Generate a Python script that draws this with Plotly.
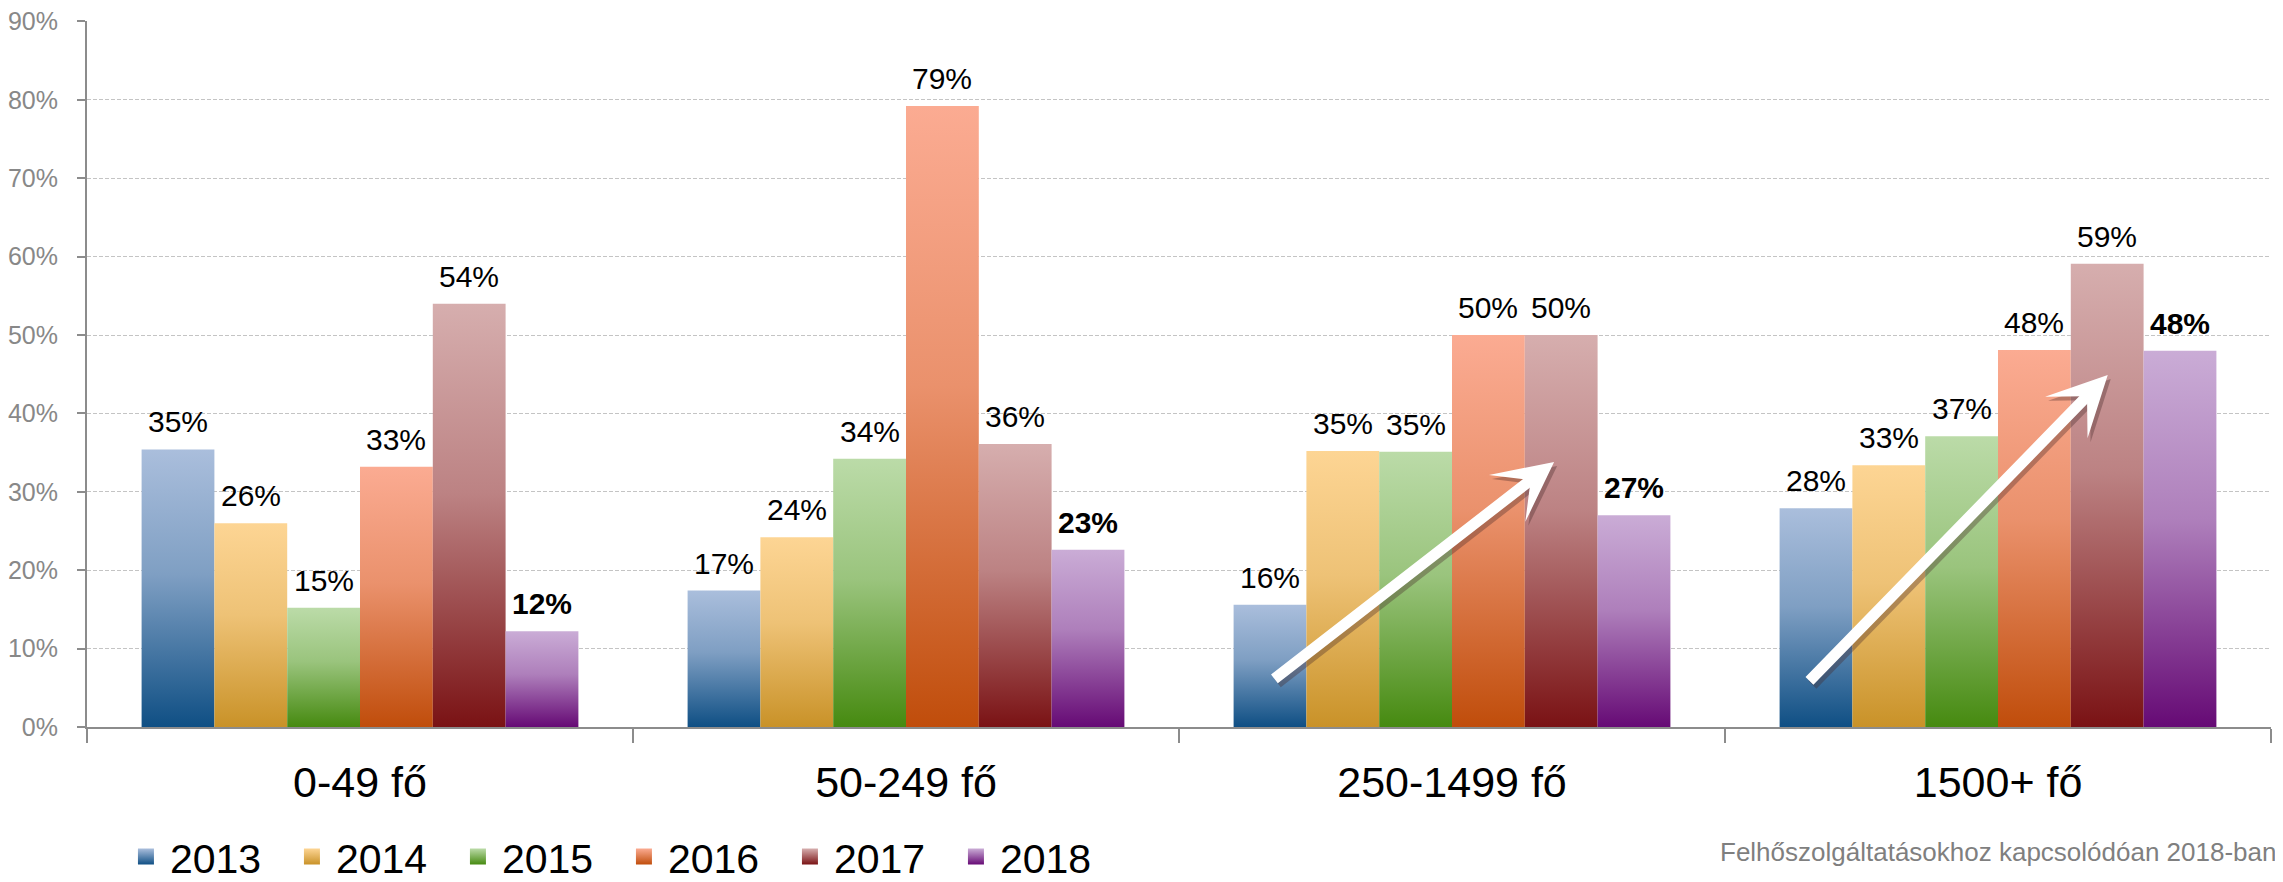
import plotly.graph_objects as go

categories = ["0-49 fő", "50-249 fő", "250-1499 fő", "1500+ fő"]
years = ["2013", "2014", "2015", "2016", "2017", "2018"]
y_ticks = [0, 10, 20, 30, 40, 50, 60, 70, 80, 90]
y_tick_labels = ["0%", "10%", "20%", "30%", "40%", "50%", "60%", "70%", "80%", "90%"]

# share per year, one list per category (percent)
v_0_49 = [35.4, 26.0, 15.2, 33.2, 54.0, 12.2]
v_50_249 = [17.4, 24.2, 34.2, 79.2, 36.1, 22.6]
v_250_1499 = [15.6, 35.2, 35.1, 50.0, 50.0, 27.0]
v_1500 = [27.9, 33.4, 37.1, 48.1, 59.1, 48.0]
values = [v_0_49, v_50_249, v_250_1499, v_1500]

# gradient colours per year (top, bottom)
tops = ["#AABEDC", "#FDD594", "#BBDBA8", "#FBAB92", "#D6AEAE", "#CAACD6"]
bottoms = ["#0F4F84", "#C99228", "#468A10", "#C04D0B", "#7A1214", "#660A75"]

FONT = "Liberation Sans Narrow, Arial Narrow, Liberation Sans, Arial, sans-serif"
REG = "Liberation Sans, Arial, sans-serif"


def mix(c1, c2, t):
    a = [int(c1[i:i + 2], 16) for i in (1, 3, 5)]
    b = [int(c2[i:i + 2], 16) for i in (1, 3, 5)]
    return "#%02x%02x%02x" % tuple(round(a[k] * (1 - t) + b[k] * t) for k in range(3))


fig = go.Figure()
w = 0.8 / len(years)

for g, cat_vals in enumerate(values):
    for j, v in enumerate(cat_vals):
        x0 = g - 0.4 + j * w
        x1 = x0 + w
        scale = [[0, bottoms[j]], [0.55, mix(bottoms[j], tops[j], 0.72)], [1, tops[j]]]
        fig.add_trace(go.Scatter(
            x=[x0, x1, x1, x0, x0], y=[0, 0, v, v, 0],
            mode="lines", line=dict(width=0), fill="toself",
            fillgradient=dict(type="vertical", colorscale=scale),
            showlegend=False, hoverinfo="skip"))
        txt = f"{round(v)}%"
        if j == len(years) - 1:
            txt = f"<b>{txt}</b>"
        fig.add_annotation(x=x0 + w / 2, y=v, text=txt, showarrow=False,
                           yanchor="bottom", yshift=9,
                           font=dict(family=FONT, size=30, color="black"))

# legend entries
for j, yr in enumerate(years):
    fig.add_trace(go.Scatter(
        x=[None], y=[None], mode="markers", name=yr,
        marker=dict(symbol="square", size=25, color=tops[j],
                    gradient=dict(type="vertical", color=bottoms[j]))))

# trend arrows (shadow first)
arrows = [((2.187, 33.8), (1.672, 6.0)), ((3.201, 44.9), (2.652, 5.7))]
for (tx, ty), (sx, sy) in arrows:
    fig.add_annotation(x=tx, y=ty, ax=sx, ay=sy, axref="x", ayref="y",
                       xref="x", yref="y", text="", showarrow=True,
                       arrowhead=3, arrowsize=0.9, arrowwidth=11,
                       arrowcolor="rgba(70,40,40,0.35)", xshift=3, yshift=-4)
    fig.add_annotation(x=tx, y=ty, ax=sx, ay=sy, axref="x", ayref="y",
                       xref="x", yref="y", text="", showarrow=True,
                       arrowhead=3, arrowsize=0.9, arrowwidth=11,
                       arrowcolor="white")

fig.add_annotation(xref="paper", yref="paper", x=1.0035, y=-0.177,
                   xanchor="right", yanchor="middle", showarrow=False,
                   text="Felhőszolgáltatásokhoz kapcsolódóan 2018-ban",
                   font=dict(family=REG, size=26, color="#7f7f7f"))

# page body adds an 8px offset, so the figure is 8px smaller on each side
fig.update_layout(
    width=2275, height=874,
    margin=dict(l=79, r=12, t=13, b=155, autoexpand=False),
    paper_bgcolor="white", plot_bgcolor="white",
    showlegend=True,
    legend=dict(orientation="h", x=0.016, y=-0.184, xanchor="left", yanchor="middle",
                font=dict(family=FONT, size=41, color="black"),
                entrywidth=113, entrywidthmode="pixels", itemsizing="trace",
                itemwidth=38),
    xaxis=dict(range=[-0.5, 3.5], tickvals=[0, 1, 2, 3], ticktext=categories,
               showgrid=False, zeroline=False, showline=True, linecolor="#8c8c8c",
               linewidth=2, ticks="", ticklabelstandoff=16, automargin=False,
               tickfont=dict(family=FONT, size=43, color="black"),
               minor=dict(tickvals=[-0.5, 0.5, 1.5, 2.5, 3.5], ticks="outside",
                          ticklen=14, tickwidth=2, tickcolor="#8c8c8c", showgrid=False)),
    yaxis=dict(range=[0, 90.05], tickvals=y_ticks, ticktext=y_tick_labels,
               showline=True, ticklabeloverflow="allow",
               linecolor="#8c8c8c", linewidth=2, ticks="outside", ticklen=8,
               tickwidth=2, tickcolor="#8c8c8c", showgrid=True, gridcolor="#c4c4c4",
               griddash="4px,2px", gridwidth=1, zeroline=False, automargin=False,
               ticklabelstandoff=14,
               tickfont=dict(family=REG, size=25, color="#888888")),
)

fig.write_html("out.html")
